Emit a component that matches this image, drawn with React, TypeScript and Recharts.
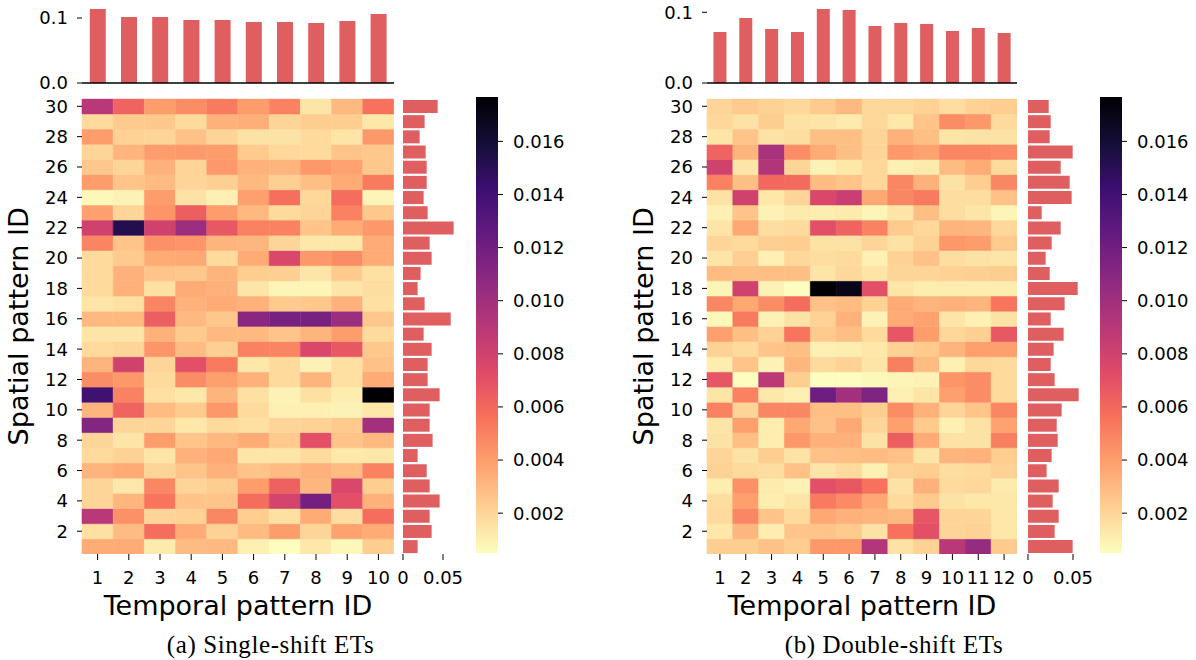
import React from 'react';
import { BarChart, Bar, XAxis, YAxis, Cell } from 'recharts';

// ---------------- data ----------------
const temporalIdsSingle = [1, 2, 3, 4, 5, 6, 7, 8, 9, 10];
const temporalIdsDouble = [1, 2, 3, 4, 5, 6, 7, 8, 9, 10, 11, 12];
// spatial pattern IDs, top row first
const spatialIds = [30, 29, 28, 27, 26, 25, 24, 23, 22, 21, 20, 19, 18, 17, 16, 15, 14, 13, 12, 11, 10, 9, 8, 7, 6, 5, 4, 3, 2, 1];
const spatialTickLabels = [2, 4, 6, 8, 10, 12, 14, 16, 18, 20, 22, 24, 26, 28, 30];
const topTicks = [0, 0.1];
const sideTicks = [0, 0.05];
const colorbarTicks = [0.002, 0.004, 0.006, 0.008, 0.01, 0.012, 0.014, 0.016];
const COLOR_MIN = 0.0005;
const COLOR_MAX = 0.01767;

const temporalShareSingle = [0.1138, 0.1015, 0.1015, 0.097, 0.097, 0.0938, 0.0938, 0.0923, 0.0954, 0.106];
const temporalShareDouble = [0.0721, 0.092, 0.0764, 0.0721, 0.1047, 0.1033, 0.0806, 0.0849, 0.0835, 0.0736, 0.0778, 0.0707];

// rows 30 -> 1
const spatialShareSingle = [0.0433, 0.027, 0.0208, 0.0283, 0.0296, 0.0296, 0.0258, 0.0308, 0.0633, 0.0333, 0.0358, 0.022, 0.0183, 0.027, 0.0596, 0.0258, 0.0358, 0.0308, 0.0308, 0.0458, 0.0333, 0.0333, 0.037, 0.0183, 0.0296, 0.0333, 0.0458, 0.0333, 0.0358, 0.0183];
const spatialShareDouble = [0.023, 0.0252, 0.0241, 0.0496, 0.0363, 0.0463, 0.0485, 0.0152, 0.0363, 0.0263, 0.0196, 0.0241, 0.0552, 0.0407, 0.0252, 0.0396, 0.0285, 0.0252, 0.0296, 0.0563, 0.0374, 0.0319, 0.033, 0.0263, 0.0207, 0.0341, 0.0274, 0.0341, 0.0296, 0.0496];

// heatmap cells, rows 30 -> 1, columns = temporal pattern IDs
const cellsSingle = [
  [0.009, 0.0062, 0.004, 0.0046, 0.0053, 0.004, 0.005, 0.0014, 0.003, 0.0056],
  [0.0018, 0.0024, 0.0025, 0.0018, 0.0033, 0.0034, 0.002, 0.0023, 0.0023, 0.0013],
  [0.004, 0.0021, 0.002, 0.0027, 0.002, 0.0015, 0.0015, 0.0018, 0.0014, 0.0042],
  [0.002, 0.0032, 0.004, 0.0041, 0.004, 0.0024, 0.0019, 0.0018, 0.0026, 0.0025],
  [0.0025, 0.002, 0.0033, 0.002, 0.0042, 0.0033, 0.0032, 0.0042, 0.0038, 0.0025],
  [0.004, 0.0026, 0.0029, 0.002, 0.0022, 0.003, 0.0022, 0.0028, 0.0035, 0.0053],
  [0.0007, 0.0009, 0.004, 0.0015, 0.001, 0.0039, 0.0057, 0.0019, 0.0058, 0.0008],
  [0.0039, 0.002, 0.0043, 0.0064, 0.004, 0.003, 0.0018, 0.002, 0.005, 0.0025],
  [0.008, 0.0152, 0.008, 0.0102, 0.0067, 0.005, 0.005, 0.0026, 0.0035, 0.0042],
  [0.0049, 0.0026, 0.0045, 0.0043, 0.0032, 0.0031, 0.002, 0.0013, 0.0013, 0.0035],
  [0.0018, 0.0024, 0.0035, 0.0036, 0.0018, 0.0035, 0.0076, 0.0042, 0.0046, 0.0035],
  [0.0018, 0.0033, 0.0026, 0.0025, 0.0032, 0.0023, 0.0022, 0.0014, 0.0024, 0.0016],
  [0.0018, 0.0033, 0.0016, 0.0035, 0.0033, 0.0014, 0.0008, 0.0008, 0.0014, 0.0017],
  [0.0014, 0.0016, 0.0049, 0.0033, 0.0035, 0.0033, 0.0024, 0.0025, 0.0033, 0.0016],
  [0.003, 0.003, 0.0064, 0.003, 0.0025, 0.0109, 0.0117, 0.0117, 0.0102, 0.0025],
  [0.0014, 0.0014, 0.0033, 0.0024, 0.003, 0.003, 0.0026, 0.0032, 0.004, 0.0018],
  [0.0018, 0.002, 0.0043, 0.0029, 0.0022, 0.005, 0.0049, 0.0076, 0.0067, 0.0025],
  [0.0032, 0.008, 0.002, 0.0071, 0.0053, 0.0013, 0.0018, 0.0009, 0.0016, 0.0027],
  [0.0046, 0.0042, 0.0018, 0.0046, 0.0039, 0.0033, 0.0018, 0.0032, 0.0016, 0.0035],
  [0.014, 0.005, 0.0016, 0.0013, 0.0032, 0.0016, 0.0009, 0.0016, 0.0011, 0.0177],
  [0.0032, 0.0062, 0.0029, 0.0024, 0.0042, 0.0018, 0.001, 0.001, 0.0009, 0.0013],
  [0.0112, 0.002, 0.002, 0.0013, 0.0018, 0.0016, 0.002, 0.0021, 0.0024, 0.0099],
  [0.002, 0.0014, 0.004, 0.0026, 0.003, 0.0035, 0.0024, 0.0071, 0.0026, 0.003],
  [0.0018, 0.0021, 0.0014, 0.0033, 0.0036, 0.0014, 0.0014, 0.0018, 0.0013, 0.0013],
  [0.0032, 0.0035, 0.002, 0.0026, 0.0033, 0.0026, 0.0029, 0.0033, 0.0029, 0.005],
  [0.002, 0.0013, 0.0048, 0.002, 0.0023, 0.004, 0.0063, 0.0031, 0.0076, 0.0023],
  [0.002, 0.0031, 0.0055, 0.0026, 0.0026, 0.0058, 0.0078, 0.0118, 0.0071, 0.0033],
  [0.009, 0.0045, 0.002, 0.0021, 0.0048, 0.0023, 0.0016, 0.0035, 0.0017, 0.0058],
  [0.0016, 0.0029, 0.0058, 0.0035, 0.0021, 0.0029, 0.004, 0.002, 0.0038, 0.0035],
  [0.0035, 0.0035, 0.0012, 0.0029, 0.003, 0.001, 0.0005, 0.0013, 0.0007, 0.0023],
];

const cellsDouble = [
  [0.002, 0.0024, 0.0021, 0.0019, 0.0024, 0.003, 0.0019, 0.0019, 0.0021, 0.0017, 0.0021, 0.0023],
  [0.0019, 0.0015, 0.0023, 0.0015, 0.0014, 0.0012, 0.0019, 0.0013, 0.0026, 0.0046, 0.0042, 0.0018],
  [0.0014, 0.0026, 0.0015, 0.0017, 0.0028, 0.0028, 0.002, 0.0033, 0.0028, 0.0014, 0.0015, 0.0015],
  [0.0062, 0.0032, 0.0097, 0.0046, 0.0035, 0.0028, 0.002, 0.0042, 0.0038, 0.0048, 0.0048, 0.0047],
  [0.008, 0.0014, 0.0093, 0.002, 0.0009, 0.0013, 0.0019, 0.001, 0.0012, 0.0029, 0.0035, 0.0018],
  [0.005, 0.0028, 0.006, 0.0059, 0.0029, 0.0026, 0.0019, 0.0048, 0.0033, 0.0015, 0.0023, 0.0048],
  [0.0015, 0.008, 0.0013, 0.002, 0.0076, 0.0083, 0.0036, 0.0048, 0.0053, 0.0017, 0.0017, 0.0027],
  [0.001, 0.0026, 0.0009, 0.0012, 0.0011, 0.0012, 0.0008, 0.0014, 0.0028, 0.0017, 0.0014, 0.0008],
  [0.0014, 0.0036, 0.0017, 0.0018, 0.0071, 0.0062, 0.005, 0.0024, 0.0019, 0.0032, 0.0031, 0.0019],
  [0.002, 0.0018, 0.0022, 0.0023, 0.0015, 0.0015, 0.002, 0.0015, 0.0021, 0.0042, 0.004, 0.0024],
  [0.0014, 0.0022, 0.001, 0.0019, 0.0017, 0.0018, 0.001, 0.0021, 0.0027, 0.0017, 0.0015, 0.0014],
  [0.0029, 0.0028, 0.0028, 0.0028, 0.0014, 0.0019, 0.0014, 0.002, 0.002, 0.0021, 0.0022, 0.0023],
  [0.0008, 0.008, 0.0009, 0.0005, 0.0177, 0.017, 0.0071, 0.0014, 0.0011, 0.0011, 0.0011, 0.0011],
  [0.0048, 0.0036, 0.0046, 0.0058, 0.0027, 0.0029, 0.0021, 0.0035, 0.0032, 0.0033, 0.0032, 0.0055],
  [0.0007, 0.0053, 0.0009, 0.0015, 0.0021, 0.0033, 0.0009, 0.0035, 0.0038, 0.0014, 0.001, 0.0015],
  [0.0039, 0.0028, 0.0021, 0.0055, 0.0024, 0.0028, 0.0018, 0.0068, 0.004, 0.0019, 0.0022, 0.0067],
  [0.0021, 0.0018, 0.0026, 0.0028, 0.001, 0.0011, 0.0013, 0.0021, 0.0024, 0.0032, 0.0039, 0.0039],
  [0.0011, 0.0026, 0.0009, 0.0031, 0.0018, 0.0021, 0.0014, 0.0051, 0.0029, 0.001, 0.0019, 0.0018],
  [0.0068, 0.0005, 0.0089, 0.0023, 0.0005, 0.0005, 0.0007, 0.0008, 0.0009, 0.0043, 0.0046, 0.0018],
  [0.0014, 0.005, 0.0013, 0.001, 0.0121, 0.0099, 0.0114, 0.001, 0.0014, 0.0039, 0.0046, 0.0018],
  [0.005, 0.002, 0.0048, 0.0048, 0.0028, 0.0028, 0.0023, 0.0046, 0.0033, 0.002, 0.0026, 0.0048],
  [0.0014, 0.0039, 0.0011, 0.0036, 0.0027, 0.0036, 0.002, 0.0039, 0.0024, 0.001, 0.0015, 0.0038],
  [0.0015, 0.0028, 0.0011, 0.0042, 0.0033, 0.0033, 0.0015, 0.0064, 0.0035, 0.0015, 0.0015, 0.0051],
  [0.002, 0.0015, 0.0023, 0.0015, 0.0027, 0.0028, 0.0029, 0.0027, 0.0014, 0.0032, 0.0033, 0.0023],
  [0.0021, 0.0018, 0.0017, 0.0027, 0.0014, 0.0018, 0.001, 0.0021, 0.0023, 0.0017, 0.0018, 0.0021],
  [0.0011, 0.0045, 0.0012, 0.0009, 0.0071, 0.0067, 0.0056, 0.0015, 0.0033, 0.0018, 0.0019, 0.0012],
  [0.0017, 0.0039, 0.0011, 0.0014, 0.0053, 0.0047, 0.0036, 0.0018, 0.0024, 0.0015, 0.0013, 0.0013],
  [0.0018, 0.0048, 0.0026, 0.0018, 0.0036, 0.0033, 0.0032, 0.003, 0.0068, 0.002, 0.002, 0.0013],
  [0.0013, 0.0031, 0.0011, 0.0026, 0.0026, 0.0024, 0.0015, 0.0056, 0.0071, 0.002, 0.0021, 0.0013],
  [0.0023, 0.0023, 0.0027, 0.0023, 0.0042, 0.0042, 0.0092, 0.0015, 0.0021, 0.009, 0.0104, 0.0024],
];

// ---------------- style ----------------
const FONT = 'DejaVu Sans';
const BAR_COLOR = '#df5e5f';
const MAGMA = ['#000004', '#140e36', '#3b0f70', '#641a80', '#8c2981', '#b73779', '#de4968', '#f7705c', '#fe9f6d', '#fecf92', '#fcfdbf'];
const tickStyle = { fill: '#000', fontSize: 18, fontFamily: FONT };
const tickLineStyle = { stroke: '#000', strokeWidth: 1 };

function hexToRgb(h: string) {
  return [parseInt(h.slice(1, 3), 16), parseInt(h.slice(3, 5), 16), parseInt(h.slice(5, 7), 16)];
}
function magmaR(v: number) {
  let n = (v - COLOR_MIN) / (COLOR_MAX - COLOR_MIN);
  n = Math.max(0, Math.min(1, n));
  const t = (1 - n) * (MAGMA.length - 1);
  const i = Math.min(MAGMA.length - 2, Math.floor(t));
  const f = t - i;
  const a = hexToRgb(MAGMA[i]);
  const b = hexToRgb(MAGMA[i + 1]);
  const c = a.map((x, k) => Math.round(x + (b[k] - x) * f));
  return `rgb(${c[0]},${c[1]},${c[2]})`;
}

type PanelProps = {
  temporalIds: number[];
  temporalShare: number[];
  topMax: number;
  spatialShare: number[];
  cells: number[][];
  heatLeft: number;
  heatWidth: number;
  sideLeft: number;
  sideWidth: number;
  cbLeft: number;
  cbLabelWidth: number;
  gradId: string;
};

function Panel(p: PanelProps) {
  const chartLeft = p.heatLeft - 82;
  const topData = p.temporalIds.map((t, i) => ({ t, v: p.temporalShare[i] }));
  const heatData = p.temporalIds.map((t) => {
    const d: Record<string, number> = { t };
    spatialIds.forEach((s) => {
      d['s' + s] = 1;
    });
    return d;
  });
  const rowsBottomUp = [...spatialIds].reverse();
  const sideData = spatialIds.map((s, i) => ({ s, v: p.spatialShare[i] }));
  const cbData = [{ k: 'cb', range: [COLOR_MIN, COLOR_MAX] }];

  return (
    <>
      {/* top marginal bars */}
      <div style={{ position: 'absolute', left: chartLeft, top: 0 }}>
        <BarChart width={82 + p.heatWidth} height={100} data={topData} margin={{ top: 5, right: 0, bottom: 16, left: 0 }} barCategoryGap="25%">
          <XAxis dataKey="t" type="category" height={1} tick={false} tickLine={false} axisLine={{ stroke: '#000', strokeWidth: 1.3 }} />
          <YAxis
            type="number"
            width={82}
            domain={[0, p.topMax]}
            ticks={topTicks}
            interval={0}
            allowDataOverflow
            tickFormatter={(v: number) => v.toFixed(1)}
            axisLine={false}
            tickSize={5}
            tickMargin={9}
            tick={tickStyle}
            tickLine={tickLineStyle}
          />
          <Bar dataKey="v" fill={BAR_COLOR} isAnimationActive={false} />
        </BarChart>
      </div>

      {/* heatmap */}
      <div style={{ position: 'absolute', left: chartLeft, top: 90 }}>
        <BarChart width={82 + p.heatWidth} height={540} data={heatData} margin={{ top: 8.7, right: 0, bottom: 6, left: 0 }} barCategoryGap={0} barGap={0}>
          <XAxis
            dataKey="t"
            type="category"
            interval={0}
            height={70}
            axisLine={false}
            tickSize={6}
            tickMargin={11}
            tick={tickStyle}
            tickLine={tickLineStyle}
            label={{ value: 'Temporal pattern ID', position: 'insideBottom', offset: 9, fontSize: 27, fill: '#000', fontFamily: FONT }}
          />
          <YAxis
            type="number"
            width={82}
            domain={[0, 30]}
            allowDataOverflow
            ticks={spatialTickLabels.map((l) => l - 0.5)}
            interval={0}
            tickFormatter={(v: number) => String(Math.round(v + 0.5))}
            axisLine={false}
            tickSize={5}
            tickMargin={9}
            tick={tickStyle}
            tickLine={tickLineStyle}
            label={{
              value: 'Spatial pattern ID',
              angle: -90,
              position: 'insideLeft',
              offset: 18,
              fontSize: 27,
              fill: '#000',
              fontFamily: FONT,
              style: { textAnchor: 'middle' },
            }}
          />
          {rowsBottomUp.map((s) => {
            const ri = spatialIds.indexOf(s);
            return (
              <Bar key={s} dataKey={'s' + s} stackId="heat" isAnimationActive={false}>
                {p.temporalIds.map((t, ci) => {
                  const c = magmaR(p.cells[ri][ci]);
                  return <Cell key={t} fill={c} stroke={c} strokeWidth={0.6} />;
                })}
              </Bar>
            );
          })}
        </BarChart>
      </div>

      {/* right marginal bars */}
      <div style={{ position: 'absolute', left: p.sideLeft - 20, top: 90 }}>
        <BarChart layout="vertical" width={p.sideWidth + 40} height={540} data={sideData} margin={{ top: 8.7, right: 20, bottom: 6, left: 20 }} barCategoryGap="8.5%">
          <XAxis
            type="number"
            domain={[0, 0.07]}
            ticks={sideTicks}
            interval={0}
            allowDataOverflow
            tickFormatter={(v: number) => (v === 0 ? '0' : String(v))}
            height={70}
            axisLine={false}
            tickSize={6}
            tickMargin={11}
            tick={tickStyle}
            tickLine={tickLineStyle}
          />
          <YAxis type="category" dataKey="s" width={0} tick={false} tickLine={false} axisLine={{ stroke: '#000', strokeWidth: 1.3 }} />
          <Bar dataKey="v" fill={BAR_COLOR} isAnimationActive={false} />
        </BarChart>
      </div>

      {/* colorbar */}
      <div style={{ position: 'absolute', left: p.cbLeft - 6, top: 90 }}>
        <BarChart width={6 + 22 + p.cbLabelWidth} height={540} data={cbData} margin={{ top: 7, right: 0, bottom: 77, left: 6 }} barCategoryGap={0}>
          <defs>
            <linearGradient id={p.gradId} x1="0" y1="1" x2="0" y2="0">
              {MAGMA.map((_, i) => (
                <stop key={i} offset={i / (MAGMA.length - 1)} stopColor={MAGMA[MAGMA.length - 1 - i]} />
              ))}
            </linearGradient>
          </defs>
          <XAxis dataKey="k" type="category" hide />
          <YAxis
            orientation="right"
            type="number"
            domain={[COLOR_MIN, COLOR_MAX]}
            allowDataOverflow
            ticks={colorbarTicks}
            interval={0}
            tickFormatter={(v: number) => v.toFixed(3)}
            width={p.cbLabelWidth}
            axisLine={false}
            tickSize={5}
            tickMargin={10}
            tick={tickStyle}
            tickLine={tickLineStyle}
          />
          <Bar dataKey="range" fill={`url(#${p.gradId})`} isAnimationActive={false} />
        </BarChart>
      </div>
    </>
  );
}

export default function App() {
  return (
    <div style={{ position: 'absolute', left: 0, top: 0, width: 1196, height: 660, background: '#fff', overflow: 'hidden', fontFamily: FONT }}>
      <Panel
        temporalIds={temporalIdsSingle}
        temporalShare={temporalShareSingle}
        topMax={0.12}
        spatialShare={spatialShareSingle}
        cells={cellsSingle}
        heatLeft={82}
        heatWidth={312}
        sideLeft={403}
        sideWidth={56}
        cbLeft={476}
        cbLabelWidth={100}
        gradId="magmaGradA"
      />
      <Panel
        temporalIds={temporalIdsDouble}
        temporalShare={temporalShareDouble}
        topMax={0.1103}
        spatialShare={spatialShareDouble}
        cells={cellsDouble}
        heatLeft={707}
        heatWidth={310}
        sideLeft={1028}
        sideWidth={63}
        cbLeft={1100}
        cbLabelWidth={74}
        gradId="magmaGradB"
      />
      <svg width={1196} height={660} style={{ position: 'absolute', left: 0, top: 0, pointerEvents: 'none' }}>
        <text x={270.5} y={653} textAnchor="middle" fontFamily="Liberation Serif" fontSize={25} letterSpacing={0.6} fill="#000">
          (a) Single-shift ETs
        </text>
        <text x={894} y={653} textAnchor="middle" fontFamily="Liberation Serif" fontSize={25} letterSpacing={0.6} fill="#000">
          (b) Double-shift ETs
        </text>
      </svg>
    </div>
  );
}
